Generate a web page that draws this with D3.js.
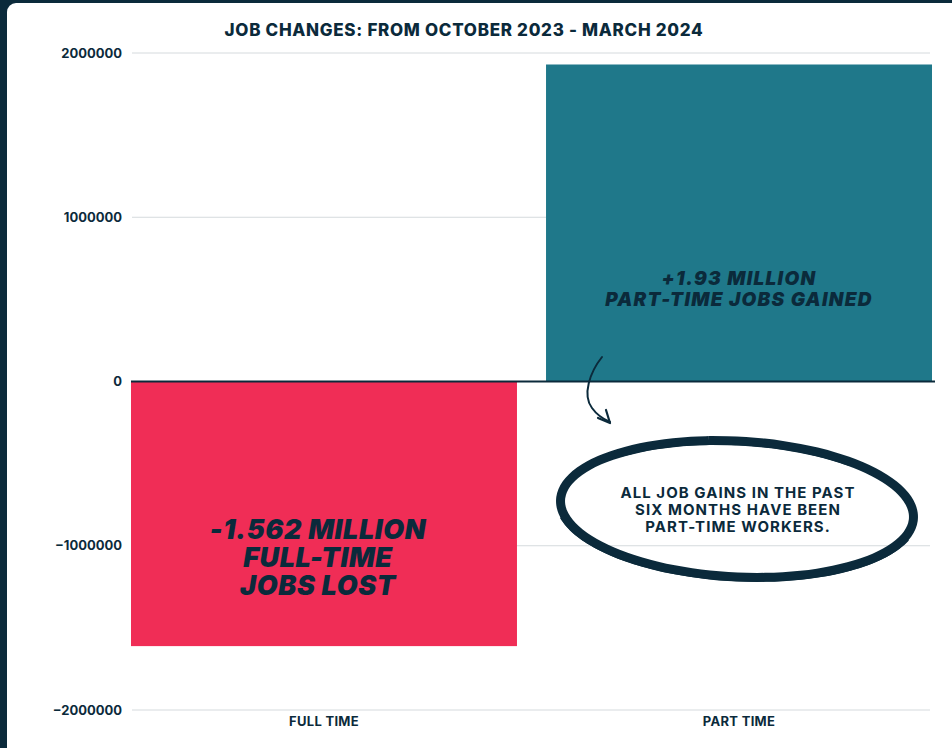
<html lang="en">
  <head>
    <meta charset="utf-8">
    <title>Job changes</title>
    <script src="https://d3js.org/d3.v7.min.js"></script>
    <style>
      body { margin: 0; background: #0b2a3b; }
      text { font-family: Inter, "Open Sans", sans-serif; fill: #0b2a3b; }
    </style>
  </head>
  <body>
    <script type="text/javascript">
      var w = 952;
      var h = 748;
      var categories = ["FULL TIME", "PART TIME"];
      var values = [-1611000, 1930000];
      var yTicks = [-2000000, -1000000, 0, 1000000, 2000000];
      var barColors = ["#f02d56", "#1f788a"];
      var barNotes = [["-1.562 MILLION", "FULL-TIME", "JOBS LOST"],
                      ["+1.93 MILLION", "PART-TIME JOBS GAINED"]];
      var calloutLines = ["ALL JOB GAINS IN THE PAST", "SIX MONTHS HAVE BEEN", "PART-TIME WORKERS."];
      var dark = "#0b2a3b";

      var xScale = d3.scaleBand()
          .domain(categories)
          .range([131, 932])
          .paddingInner(0.07)
          .paddingOuter(0);
      var yScale = d3.scaleLinear()
          .domain([-2000000, 2000000])
          .range([710, 53]);

      var svg = d3.select("body")
          .append("svg")
          .attr("width", w)
          .attr("height", h)
          .style("display", "block");

      // card
      svg.append("rect").attr("width", w).attr("height", h).attr("fill", dark);
      svg.append("rect")
          .attr("x", 7).attr("y", 3)
          .attr("width", w + 20).attr("height", h + 20)
          .attr("rx", 9)
          .attr("fill", "#fff");

      svg.append("text")
          .attr("x", 464).attr("y", 36)
          .attr("text-anchor", "middle")
          .style("font-size", "17px").style("font-weight", 800)
          .style("letter-spacing", "0.7px")
          .text("JOB CHANGES: FROM OCTOBER 2023 - MARCH 2024");

      // gridlines
      svg.append("g").selectAll("line")
          .data(yTicks.filter(function(d){ return d !== 0; }))
          .enter().append("line")
          .attr("x1", 132).attr("x2", 930)
          .attr("y1", function(d){ return yScale(d); })
          .attr("y2", function(d){ return yScale(d); })
          .attr("stroke", "#d5dadd").attr("stroke-width", 1);

      var yAxis = d3.axisLeft(yScale)
          .tickValues(yTicks)
          .tickFormat(d3.format("d"))
          .tickSize(0)
          .tickPadding(0);
      var gy = svg.append("g")
          .attr("transform", "translate(122,0)")
          .call(yAxis);
      gy.select(".domain").remove();
      gy.selectAll("text")
          .style("font-size", "13px").style("font-weight", 700)
          .style("font-family", "Inter, sans-serif")
          .attr("fill", dark);

      svg.selectAll("rect.bar")
          .data(values)
          .enter().append("rect")
          .attr("class", "bar")
          .attr("x", function(d, i){ return xScale(categories[i]); })
          .attr("width", xScale.bandwidth())
          .attr("y", function(d){ return yScale(Math.max(0, d)); })
          .attr("height", function(d){ return Math.abs(yScale(d) - yScale(0)); })
          .attr("fill", function(d, i){ return barColors[i]; });

      // zero line
      svg.append("line")
          .attr("x1", 131).attr("x2", 935)
          .attr("y1", yScale(0)).attr("y2", yScale(0))
          .attr("stroke", dark).attr("stroke-width", 2);

      var xAxis = d3.axisBottom(xScale).tickSize(0).tickPadding(0);
      var gx = svg.append("g")
          .attr("transform", "translate(0,717)")
          .call(xAxis);
      gx.select(".domain").remove();
      gx.selectAll("text")
          .style("font-size", "13px").style("font-weight", 700)
          .style("letter-spacing", "0.3px")
          .style("font-family", "Inter, sans-serif")
          .attr("fill", dark);

      // notes on bars
      var note0 = svg.append("text")
          .attr("text-anchor", "middle")
          .style("font-size", "27px").style("font-weight", 900).style("font-style", "italic")
          .style("letter-spacing", "0.6px");
      barNotes[0].forEach(function(s, i){
        note0.append("tspan").attr("x", 318).attr("y", 539 + i * 28).text(s);
      });
      var note1 = svg.append("text")
          .attr("text-anchor", "middle")
          .style("font-size", "19px").style("font-weight", 900).style("font-style", "italic")
          .style("letter-spacing", "1.3px");
      barNotes[1].forEach(function(s, i){
        note1.append("tspan").attr("x", 739).attr("y", 285 + i * 21).text(s);
      });

      // arrow
      svg.append("path")
          .attr("d", "M602,357 C590,372 582,395 592,408 C597,415 603,419 610,422")
          .attr("fill", "none").attr("stroke", dark).attr("stroke-width", 2).attr("stroke-linecap", "round");
      svg.append("path")
          .attr("d", "M598,418 L610,423 L606,410")
          .attr("fill", "none").attr("stroke", dark).attr("stroke-width", 2.2)
          .attr("stroke-linecap", "round").attr("stroke-linejoin", "round");

      // hand drawn ellipse
      var cx = 737, cy = 509, rx = 177, ry = 68, rot = 3 * Math.PI / 180;
      function ring(a0, a1, dr) {
        var pts = d3.range(0, 61).map(function(k){
          var a = a0 + (a1 - a0) * k / 60;
          var r1 = rx + dr, r2 = ry + dr * 0.6;
          var ex = r1 * Math.cos(a), ey = r2 * Math.sin(a);
          return [cx + ex * Math.cos(rot) - ey * Math.sin(rot),
                  cy + ex * Math.sin(rot) + ey * Math.cos(rot)];
        });
        return d3.line().curve(d3.curveBasis)(pts);
      }
      svg.append("path")
          .attr("d", ring(-1.75, 2 * Math.PI - 1.75, 0))
          .attr("fill", "none").attr("stroke", dark).attr("stroke-width", 9);
      svg.append("path")
          .attr("d", ring(0.3, 2.9, 2))
          .attr("fill", "none").attr("stroke", dark).attr("stroke-width", 6);
      svg.append("path")
          .attr("d", ring(-2.3, -0.9, -3))
          .attr("fill", "none").attr("stroke", dark).attr("stroke-width", 5).attr("stroke-linecap", "round");

      var callout = svg.append("text")
          .attr("text-anchor", "middle")
          .style("font-size", "15px").style("font-weight", 700)
          .style("letter-spacing", "1.05px");
      calloutLines.forEach(function(s, i){
        callout.append("tspan").attr("x", 738).attr("y", 498 + i * 17).text(s);
      });
    </script>
  </body>
</html>
